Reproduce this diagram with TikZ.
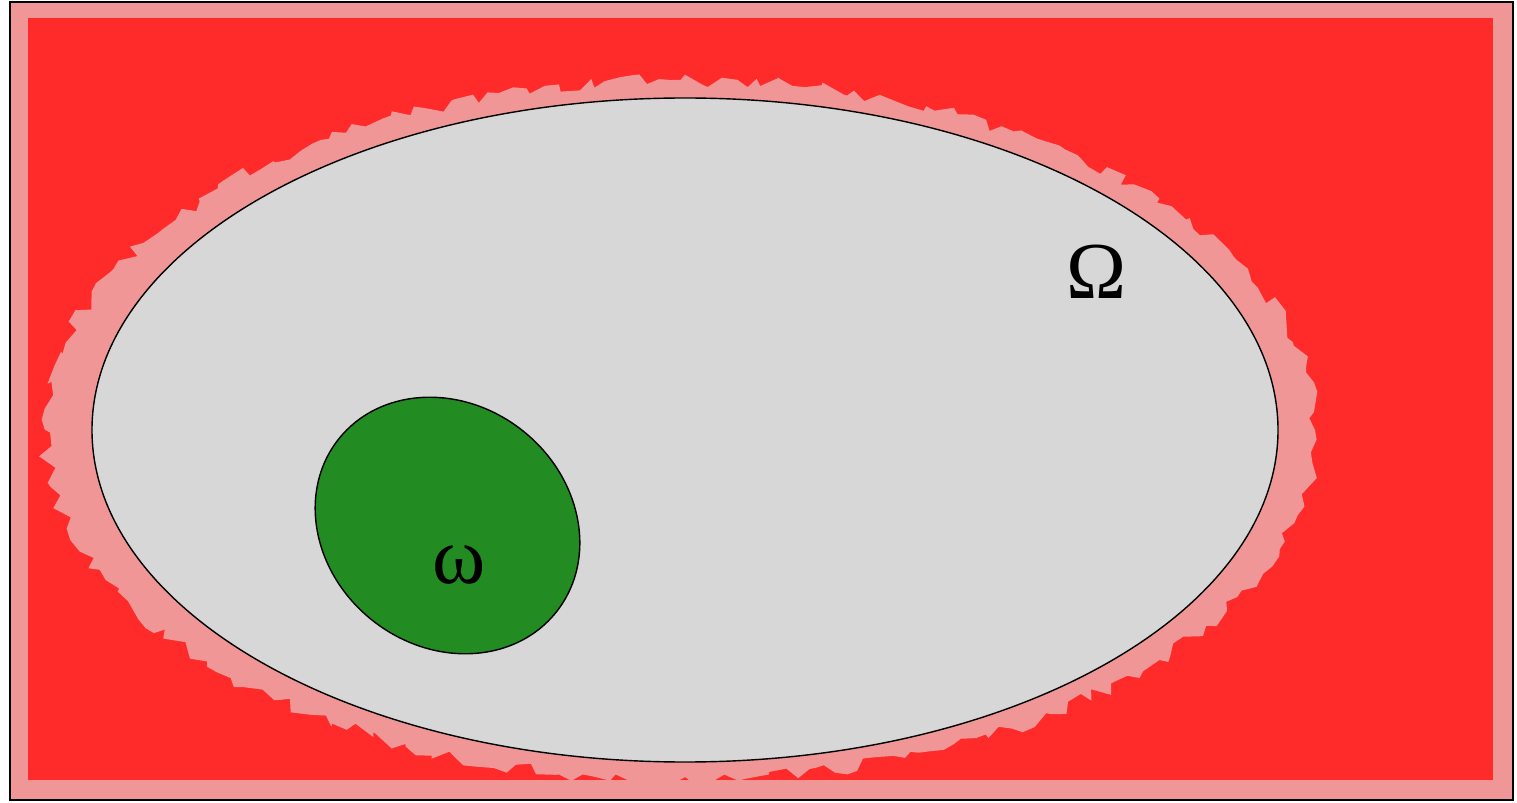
\documentclass[tikz,border=0pt]{standalone}
\usepackage{fontspec}
\newfontfamily\greekserif{Liberation Serif}
\usetikzlibrary{decorations.pathmorphing}
\definecolor{bgred}{RGB}{255,42,42}
\definecolor{halopink}{RGB}{240,150,150}
\definecolor{domgray}{RGB}{215,215,215}
\definecolor{subgreen}{RGB}{34,139,34}
\tikzset{
  frameline/.style={draw=black,line width=1.2pt,fill=halopink},
  halozone/.style={fill=halopink,decorate,decoration={random steps,segment length=6pt,amplitude=4pt}},
  bigdomain/.style={draw=black,line width=0.8pt,fill=domgray},
  subdomain/.style={draw=black,line width=0.8pt,fill=subgreen},
  biglabel/.style={font=\greekserif\fontsize{46}{50}\selectfont,inner sep=0pt}
}
\begin{document}
\begin{tikzpicture}[x=0.02cm,y=-0.02cm]
\pgfmathsetseed{7}
\useasboundingbox (0,0) rectangle (1517,803);
\fill[white] (0,0) rectangle (1517,803);
\draw[frameline] (10,2) rectangle (1513,800);
\fill[bgred] (28,18) rectangle (1493,780);
\fill[halozone] (680,430) ellipse [x radius=635, y radius=350];
\draw[bigdomain] (685,430) ellipse [x radius=593, y radius=332];
\draw[subdomain,rotate around={-38.5:(447.5,525.5)}] (447.5,525.5) ellipse [x radius=139, y radius=121];
\node[biglabel] (Omega) at (1097,272) {Ω};
\node[biglabel] (omega) at (459,565) {ω};
\end{tikzpicture}
\end{document}
